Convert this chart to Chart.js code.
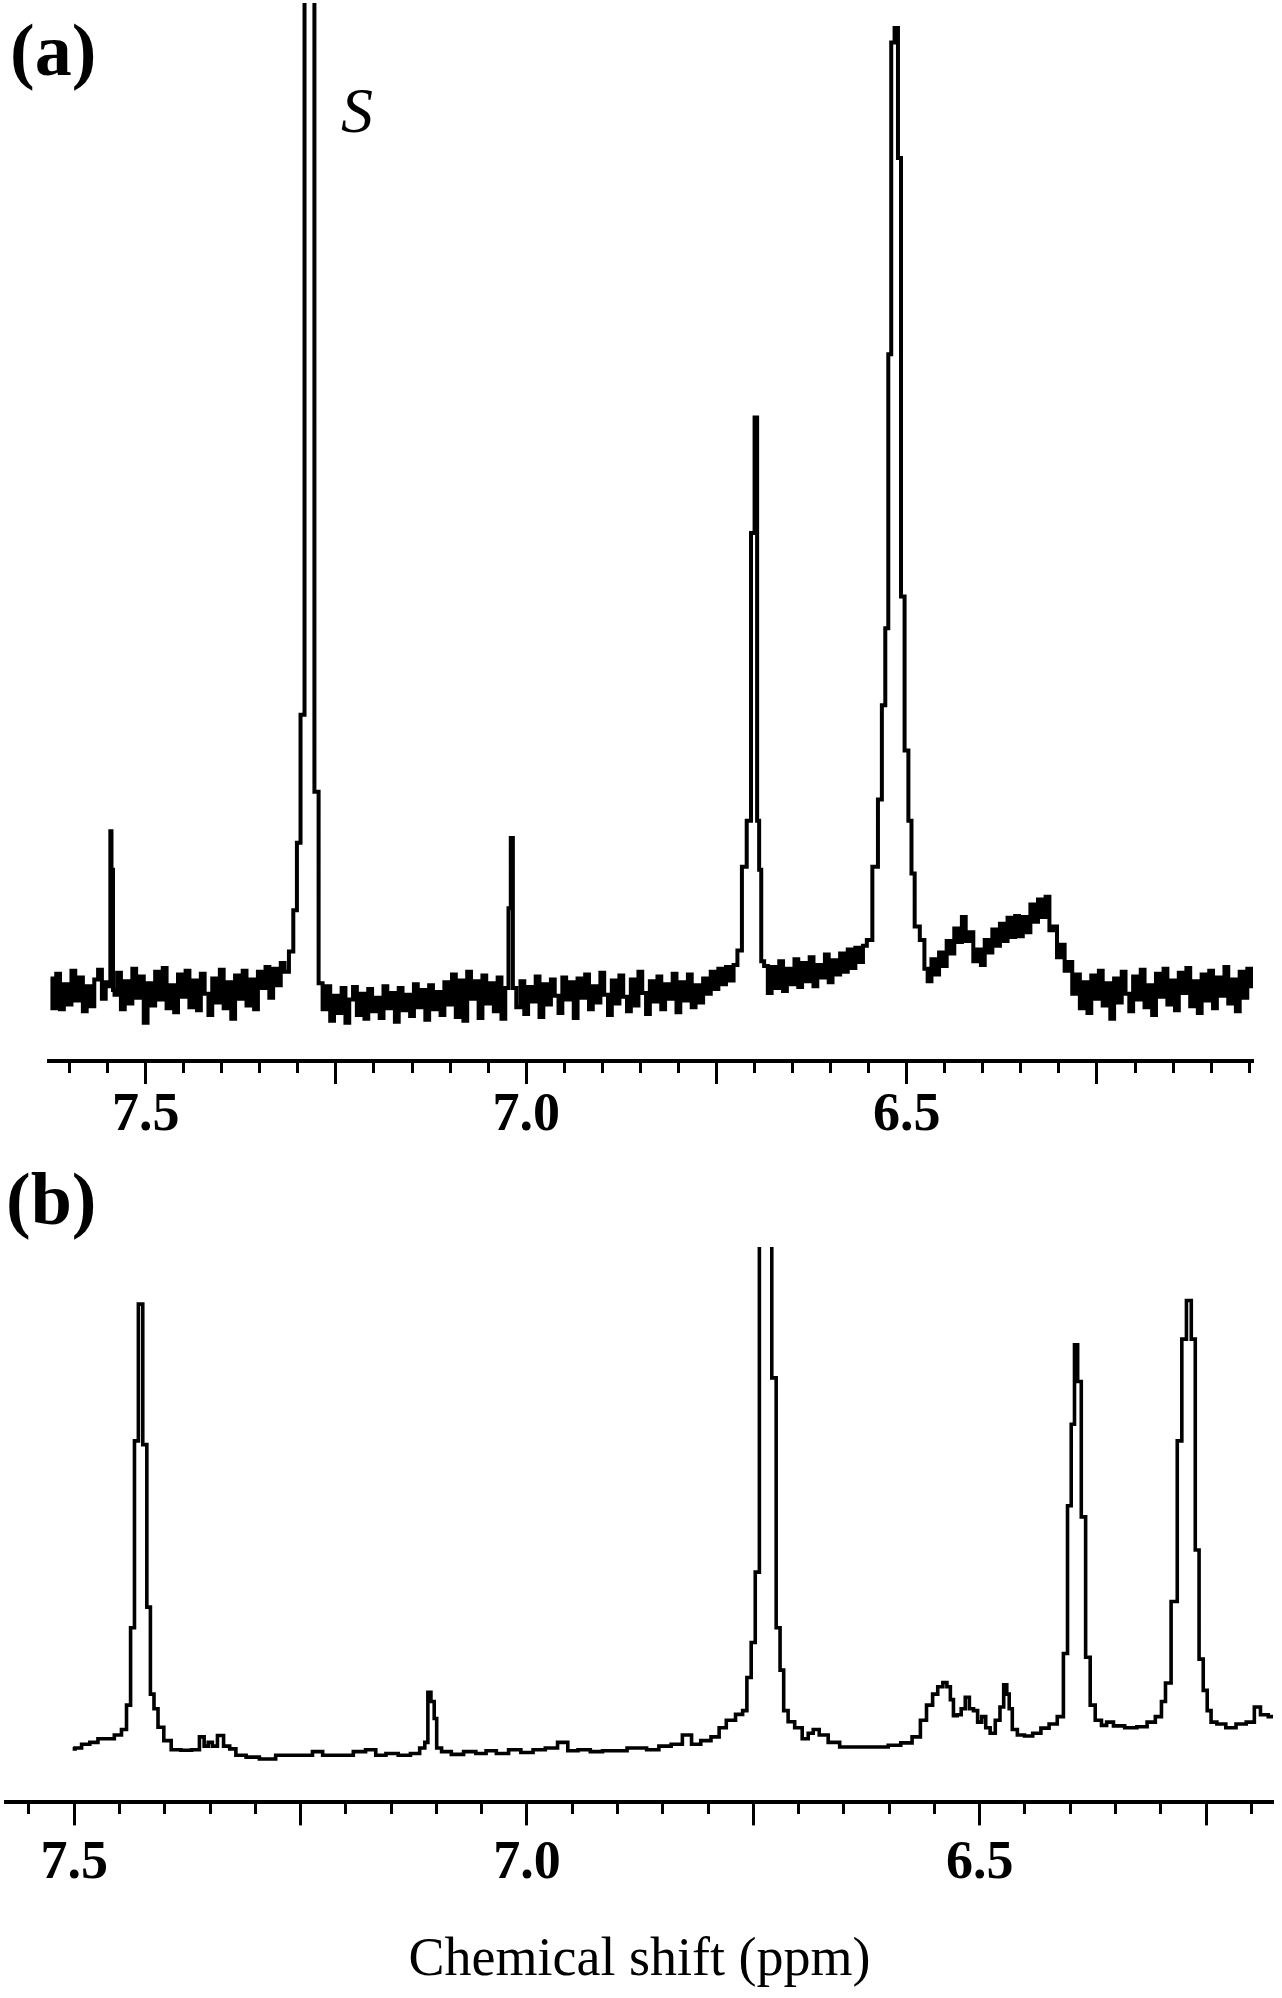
<!DOCTYPE html>
<html><head><meta charset="utf-8">
<script src="https://cdn.jsdelivr.net/npm/chart.js@4/dist/chart.umd.min.js"></script>
<style>
html,body{margin:0;padding:0;background:#fff;}
#wrap{position:relative;width:1282px;height:1998px;overflow:hidden;}
canvas{position:absolute;left:0;}
#ca{top:0;width:1282px;height:1170px;}
#cb{top:1170px;width:1282px;height:828px;}
</style></head><body>
<div id="wrap"><canvas id="ca" width="1282" height="1170"></canvas><canvas id="cb" width="1282" height="828"></canvas></div>
<script>
// ---------------- Panel (a) data ----------------
const axisMinA = 6.045, axisMaxA = 7.627;          // ppm shown on axis (a)
const intMinA = -7.38, intMaxA = 102.6;            // intensity range (a), tallest analyte peak = 100
const gridStartA = 7.625, gridStepA = 0.005;       // baseline sampling of spectrum (a)
const baselineA = [
  1.2,-1.9,1.7,-2.0,0.6,-1.5,2.0,-1.1,1.3,-2.2,
  0.4,-1.7,1.1,2.1,-0.9,0.8,null,-0.5,1.8,-2.0,
  0.9,-1.4,2.2,-0.8,1.4,-3.4,0.7,-1.6,1.9,-1.0,
  2.3,-1.9,0.5,-2.3,1.6,-0.7,2.0,-1.8,1.0,-2.1,
  1.7,-0.4,-2.6,1.2,-1.3,2.1,-1.9,0.8,-3.0,1.5,
  -0.9,2.0,-1.6,1.1,-2.0,1.9,0.2,2.4,-0.8,2.2,
  0.5,2.8,1.9,null,null,null,null,null,null,null,
  null,null,-2.0,0.4,-3.2,-0.6,-2.4,0.2,-3.4,-1.0,
  0.3,-2.6,-0.4,-3.0,0.1,-2.2,-0.8,-2.9,0.4,-1.9,
  -0.3,-3.3,0.2,-2.1,-0.5,-2.7,0.6,-1.8,0.0,-3.1,
  0.5,-2.0,-0.2,-2.6,0.8,-1.5,1.6,-2.8,1.0,-3.2,
  1.9,-0.9,0.9,-2.9,1.5,-1.4,0.7,-2.2,1.3,-3.0,
  0.2,null,null,-1.8,0.9,-2.5,0.3,-1.2,1.4,-2.8,
  0.6,-1.5,1.1,-0.6,-2.4,1.3,-1.0,0.8,-2.9,1.2,
  -0.8,1.6,-2.0,0.4,-1.3,1.8,-0.5,-2.6,1.0,-1.4,
  1.5,-0.7,-2.2,1.1,-1.6,1.9,-0.3,-2.5,0.9,-1.2,
  1.4,-2.0,0.6,-0.9,1.7,-2.3,0.8,-1.1,1.6,-1.8,
  0.5,-1.3,1.2,-0.4,1.9,0.1,2.2,0.6,2.4,1.0,
  2.6,null,null,null,null,null,null,null,2.5,-0.3,
  2.4,0.2,3.0,-0.1,2.2,0.6,3.2,0.3,2.8,0.9,
  3.4,0.4,2.6,1.3,3.7,0.8,3.1,1.6,3.8,1.9,
  4.2,2.3,4.4,2.9,4.6,null,null,null,null,null,
  null,null,null,null,null,null,null,null,null,null,
  2.2,0.9,3.2,1.6,3.9,2.5,5.1,3.8,6.4,5.0,
  7.6,5.1,6.0,3.0,4.2,2.6,5.2,3.9,6.3,4.6,
  6.9,5.1,7.5,5.5,7.7,5.6,7.6,6.0,8.9,7.1,
  9.4,7.6,9.7,6.2,6.6,3.4,4.7,2.0,2.9,-0.4,
  1.6,-1.9,0.8,-2.4,1.5,-0.9,2.0,-1.6,0.7,-3.0,
  1.2,-1.3,1.9,-0.4,-2.2,1.4,-1.0,2.1,-1.8,0.5,
  -2.6,1.7,-0.7,2.2,-1.5,1.0,-2.1,1.8,-0.3,2.3,
  -1.7,0.9,-2.4,1.6,-1.1,2.0,-1.9,1.3,-0.6,2.4,
  -1.4,1.1,-2.2,1.9,-0.8,2.2,0.4
];
// peak samples of spectrum (a): 7.55, solvent (S) 7.28, 7.02, 6.70, 6.52 ppm
const peakShiftsA = [
  7.5470,7.5458,7.5440,7.5418,
  7.3085,7.3035,7.2990,7.2940,7.2885,7.2810,7.2755,7.2700,
  7.0215,7.0190,7.0160,
  6.7199,6.7132,6.7073,6.7019,6.6979,6.6952,6.6926,6.6897,
  6.5498,6.5405,6.5351,6.5302,6.5261,6.5223,6.5184,6.5135,6.5095,6.5055,6.5001,6.4955,6.4920,6.4871,6.4785
];
const peakIntA = [
  0.4,16.5,12.5,0.0,
  4.0,8.3,15.3,28.6,140,140,20.6,0.7,
  8.5,15.8,0.2,
  4.1,12.8,17.6,47.5,59.5,17.6,12.5,3.0,
  5.2,12.8,19.8,29.6,37.6,66.1,98.5,100,86.5,40.9,24.9,17.6,12.1,6.6,5.2
];

// ---------------- Panel (b) data ----------------
const axisMinB = 6.176, axisMaxB = 7.5754;
const intMinB = -9.13, intMaxB = 111.52;
const shiftB = [
  7.5018,7.4964,7.4874,7.4783,7.4694,7.4603,7.4512,7.4445,7.4401,7.4355,
  7.4315,7.4269,7.4218,7.4179,7.4139,7.4100,7.4050,7.3972,7.3887,7.3760,
  7.3647,7.3588,7.3543,7.3498,7.3452,7.3385,7.3317,7.3249,7.3181,7.3023,
  7.2888,7.2663,7.2437,7.2301,7.2212,7.1986,7.1850,7.1715,7.1625,7.1490,
  7.1354,7.1219,7.1151,7.1106,7.1083,7.1038,7.1011,7.0983,7.0903,7.0768,
  7.0632,7.0497,7.0406,7.0271,7.0135,7.0000,6.9865,6.9730,6.9594,6.9504,
  6.9368,6.9233,6.9097,6.8962,6.8827,6.8746,6.8611,6.8475,6.8340,6.8227,
  6.8137,6.8024,6.7911,6.7844,6.7753,6.7640,6.7596,6.7546,6.7501,6.7456,
  6.7410,6.7321,6.7271,6.7224,6.7185,6.7144,6.7087,6.6999,6.6921,6.6866,
  6.6810,6.6734,6.6612,6.6480,6.6314,6.6093,6.5927,6.5816,6.5677,6.5632,
  6.5542,6.5497,6.5429,6.5384,6.5339,6.5308,6.5271,6.5226,6.5182,6.5136,
  6.5091,6.5045,6.5000,6.4955,6.4911,6.4857,6.4798,6.4753,6.4716,6.4685,
  6.4662,6.4617,6.4550,6.4459,6.4369,6.4278,6.4188,6.4098,6.4052,6.4007,
  6.3970,6.3935,6.3900,6.3855,6.3804,6.3754,6.3693,6.3616,6.3579,6.3465,
  6.3331,6.3196,6.3105,6.3014,6.2970,6.2925,6.2846,6.2789,6.2745,6.2687,
  6.2638,6.2599,6.2554,6.2507,6.2466,6.2422,6.2338,6.2225,6.2112,6.2000,
  6.1932,6.1865,6.1760
];
const intensityB = [
  2.5,2.7,3.5,3.9,4.7,4.7,5.5,6.7,12.0,28.8,
  69.4,99.1,68.6,33.3,14.4,11.2,7.2,4.3,2.3,2.2,
  2.3,5.1,3.1,3.9,3.1,5.4,3.1,2.5,1.1,0.7,
  0.3,1.1,1.1,1.9,1.1,1.1,1.9,2.3,1.1,1.5,
  1.1,1.5,2.7,3.9,14.8,12.8,9.1,2.7,1.9,1.3,
  1.9,1.5,2.1,1.5,2.3,1.7,2.3,2.7,3.9,2.1,
  2.3,1.9,2.1,2.1,2.7,2.7,2.3,3.1,3.5,5.5,
  3.5,4.3,5.1,7.1,8.7,10.0,10.8,18.0,25.6,40.9,
  160,160,83.1,28.8,19.6,10.8,8.4,7.1,4.7,5.9,
  6.7,5.5,3.9,2.9,2.9,2.9,3.3,3.8,5.1,8.7,
  12.0,14.4,16.0,16.9,16.0,13.2,9.7,9.9,11.2,13.7,
  11.2,10.8,8.3,9.5,7.1,5.9,8.7,11.6,16.4,14.4,
  11.2,6.7,5.5,5.3,5.9,7.0,7.9,9.5,23.2,55.3,
  73.0,90.3,82.3,52.9,22.4,12.0,8.7,7.6,8.3,7.5,
  7.1,7.3,8.3,9.5,12.8,16.8,34.5,69.4,91.5,99.9,
  91.5,45.7,22.0,15.2,10.8,8.3,7.9,7.1,7.9,8.3,
  11.6,9.9,9.5
];
const labelledTicks = [7.5, 7.0, 6.5];
const axisTitle = 'Chemical shift (ppm)';

// ---------------- helpers ----------------
const SERIF = "'Liberation Serif', 'Times New Roman', Times, serif";
const isLabelled = v => labelledTicks.some(m => Math.abs(m - v) < 1e-6);
const isQuarter = v => Math.abs(v * 4 - Math.round(v * 4)) < 1e-6;

function buildA() {
  const pts = [];
  baselineA.forEach((v, i) => {
    if (v === null) return;
    pts.push({x: Math.round((gridStartA - i * gridStepA) * 1e4) / 1e4, y: v});
  });
  const n = Math.min(peakShiftsA.length, peakIntA.length);
  for (let i = 0; i < n; i++) pts.push({x: peakShiftsA[i], y: peakIntA[i]});
  pts.sort((a, b) => b.x - a.x);
  return pts;
}
function buildB() {
  const n = Math.min(shiftB.length, intensityB.length);
  const pts = [];
  for (let i = 0; i < n; i++) pts.push({x: shiftB[i], y: intensityB[i]});
  return pts;
}

function xAxis(min, max, pad, title) {
  const ax = {
    type: 'linear', min, max, reverse: true, position: 'bottom', offset: false,
    border: {display: true, color: '#000', width: 4},
    grid: {
      drawOnChartArea: false, drawTicks: true, tickLength: 23, tickWidth: 3, tickColor: '#000',
      tickBorderDash: ctx => (ctx.tick && !isQuarter(ctx.tick.value)) ? [10, 60] : []
    },
    ticks: {
      stepSize: 0.05, includeBounds: false, autoSkip: false, maxRotation: 0, minRotation: 0,
      padding: pad, color: '#000',
      font: {family: SERIF, size: 54, weight: 'bold', lineHeight: 1},
      callback: v => isLabelled(v) ? v.toFixed(1) : ''
    }
  };
  if (title) {
    ax.title = {display: true, text: title, color: '#000',
      font: {family: SERIF, size: 54, weight: 'normal', lineHeight: 1},
      padding: {top: 32, bottom: 0}};
  }
  return ax;
}

function panelLabels(items) {
  return {
    id: 'panelLabels',
    afterDraw(chart) {
      const c = chart.ctx;
      c.save();
      c.fillStyle = '#000';
      c.textBaseline = 'alphabetic';
      c.textAlign = 'left';
      items.forEach(t => { c.font = t.font; c.fillText(t.text, t.x, t.y); });
      c.restore();
    }
  };
}

function lineSet(data, width) {
  return {data, borderColor: '#000', borderWidth: width, pointRadius: 0, pointHoverRadius: 0,
    stepped: 'middle', fill: false, tension: 0, borderJoinStyle: 'miter', borderCapStyle: 'butt'};
}

new Chart(document.getElementById('ca'), {
  type: 'line',
  data: {datasets: [lineSet(buildA(), 4)]},
  options: {
    responsive: false, animation: false, devicePixelRatio: 1, events: [],
    layout: {padding: {left: 49, right: 29, top: 3, bottom: 21}},
    plugins: {legend: {display: false}, tooltip: {enabled: false}, title: {display: false}},
    scales: {
      x: xAxis(axisMinA, axisMaxA, 5.5, null),
      y: {type: 'linear', display: false, min: intMinA, max: intMaxA}
    }
  },
  plugins: [panelLabels([
    {text: '(a)', x: 10, y: 75, font: 'bold 74px ' + SERIF},
    {text: 'S', x: 341, y: 132, font: 'italic 64px ' + SERIF}
  ])]
});

new Chart(document.getElementById('cb'), {
  type: 'line',
  data: {datasets: [lineSet(buildB(), 3.6)]},
  options: {
    responsive: false, animation: false, devicePixelRatio: 1, events: [],
    layout: {padding: {left: 6, right: 9, top: 77, bottom: 10}},
    plugins: {legend: {display: false}, tooltip: {enabled: false}, title: {display: false}},
    scales: {
      x: xAxis(axisMinB, axisMaxB, 11.3, axisTitle),
      y: {type: 'linear', display: false, min: intMinB, max: intMaxB}
    }
  },
  plugins: [panelLabels([
    {text: '(b)', x: 6, y: 53.5, font: 'bold 74px ' + SERIF}
  ])]
});
</script></body></html>
